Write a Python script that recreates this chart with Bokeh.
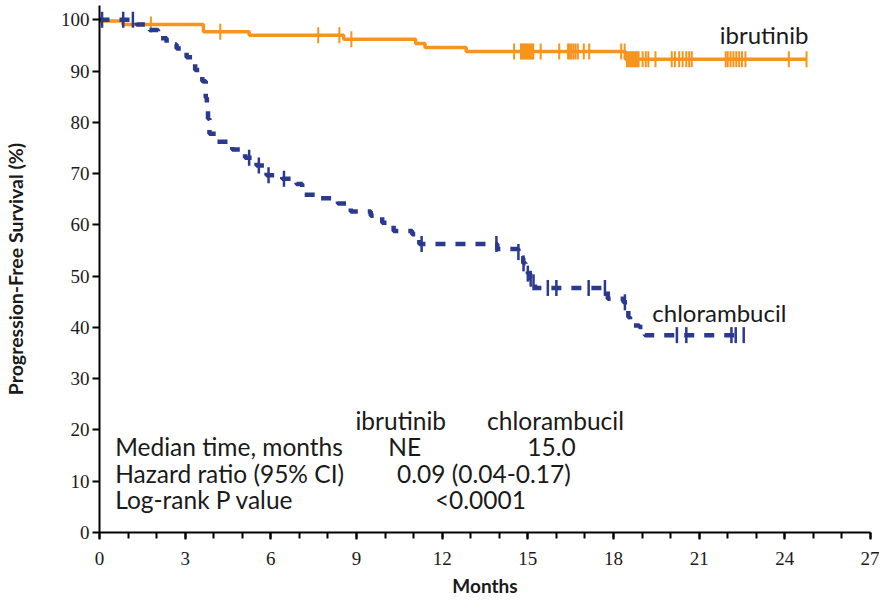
import numpy as np
from bokeh.plotting import figure
from bokeh.models import Label, FixedTicker, Range1d
from bokeh.embed import file_html
from bokeh.resources import INLINE

# ---- data ----
ibr_t = [0, 0.82, 3.64, 5.24, 8.55, 11.07, 11.4, 12.84, 18.42]
ibr_s = [99.8, 99.1, 97.7, 97.0, 96.2, 95.4, 94.6, 93.85, 92.3]
ibr_end = 24.76
ibr_cens = [1.8, 4.23, 7.66, 8.4, 8.82, 14.52, 14.76, 14.8, 14.85, 14.9, 14.95,
            15.0, 15.05, 15.1, 15.15, 15.19, 15.45, 16.1, 16.41, 16.47, 16.53,
            16.6, 16.67, 16.75, 16.96, 17.15, 18.27, 18.39, 18.47, 18.52, 18.57,
            18.62, 18.67, 18.72, 18.77, 18.82, 18.88, 19.02, 19.13, 19.22, 19.47,
            20.04, 20.15, 20.3, 20.42, 20.55, 20.65, 20.74, 21.93, 22.0, 22.1,
            22.2, 22.3, 22.4, 22.5, 22.62, 24.14, 24.76]

chl_t = [0, 1.3, 1.75, 2.05, 2.35, 2.7, 3.05, 3.35, 3.6, 3.72, 3.76, 3.8, 3.85,
         4.1, 4.65, 5.1, 5.5, 5.85, 6.4, 6.9, 7.1, 7.7, 8.35, 8.8, 9.5, 9.9,
         10.3, 10.95, 11.2, 13.93, 14.67, 14.75, 14.84, 14.92, 15.0, 15.08,
         15.16, 15.25, 17.8, 18.35, 18.48, 18.52, 18.58, 18.9, 19.1]
chl_s = [100, 99.1, 98.0, 96.4, 95.2, 94.4, 92.7, 90.2, 88.0, 84.8, 82.5, 80.7,
         77.8, 76.2, 74.7, 73.1, 71.6, 69.7, 69.0, 68.0, 65.9, 65.2, 64.2, 62.6,
         61.8, 60.4, 58.8, 58.2, 56.3, 55.3, 54.7, 53.5, 52.5, 51.5, 50.5, 49.5,
         48.8, 47.7, 45.6, 44.9, 43.3, 42.0, 40.4, 40.1, 38.5]
chl_end = 22.57
chl_cens = [0.09, 0.83, 1.17, 5.24, 5.58, 5.92, 6.46, 11.28, 13.9, 14.67, 14.85,
            15.0, 15.1, 15.2, 15.7, 16.0, 17.13, 17.7, 18.4, 20.22, 20.55,
            22.13, 22.28, 22.56]

x_ticks = [0, 3, 6, 9, 12, 15, 18, 21, 24, 27]
y_ticks = [0, 10, 20, 30, 40, 50, 60, 70, 80, 90, 100]

table_header = ["ibrutinib", "chlorambucil"]
table_rows = ["Median time, months", "Hazard ratio (95% CI)", "Log-rank P value"]
table_vals = ["NE", "15.0", "0.09 (0.04-0.17)", "<0.0001"]

ORANGE = "#F7941D"
NAVY = "#2B3990"
TXT = "#1a1a1a"
FONT = "Lato"


def censor_y(t, s, c):
    idx = np.searchsorted(np.array(t), np.array(c), side="right") - 1
    return [s[i] for i in idx]


p = figure(width=879, height=599, output_backend="svg", toolbar_location=None,
           x_range=Range1d(0, 27), y_range=Range1d(0, 102.8),
           min_border_left=97, min_border_right=9, min_border_top=5,
           min_border_bottom=67)
p.outline_line_color = None
p.xgrid.visible = False
p.ygrid.visible = False
p.background_fill_color = "white"
p.border_fill_color = "white"

# ibrutinib curve
p.step(list(ibr_t) + [ibr_end], list(ibr_s) + [ibr_s[-1]], mode="after",
       line_color=ORANGE, line_width=3.5)
p.scatter(ibr_cens, censor_y(ibr_t, ibr_s, ibr_cens), marker="dash",
          angle=np.pi / 2, size=16, line_color=ORANGE, line_width=2)

# chlorambucil curve
p.step(list(chl_t) + [chl_end], list(chl_s) + [chl_s[-1]], mode="after",
       line_color=NAVY, line_width=4.5, line_dash="10 10")
p.scatter(chl_cens, censor_y(chl_t, chl_s, chl_cens), marker="dash",
          angle=np.pi / 2, size=16, line_color=NAVY, line_width=2.5)

# axes
for ax in (p.xaxis[0], p.yaxis[0]):
    ax.axis_line_width = 2
    ax.axis_line_color = "black"
    ax.major_tick_line_width = 2
    ax.minor_tick_line_width = 2
    ax.major_tick_line_color = "black"
    ax.minor_tick_line_color = "black"
    ax.major_tick_in = 0
    ax.minor_tick_in = 0
    ax.major_tick_out = 7
    ax.minor_tick_out = 6
    ax.major_label_text_font = "Liberation Sans Narrow"
    ax.major_label_text_font_size = "19px"
    ax.major_label_text_color = TXT
    ax.axis_label_text_font = FONT
    ax.axis_label_text_font_style = "bold"
    ax.axis_label_text_color = TXT

p.xaxis[0].ticker = FixedTicker(ticks=x_ticks, minor_ticks=list(range(0, 28)))
p.yaxis[0].ticker = FixedTicker(ticks=y_ticks, minor_ticks=[])
p.xaxis[0].major_label_standoff = 12
p.yaxis[0].major_label_standoff = 3
p.xaxis[0].axis_label = "Months"
p.yaxis[0].axis_label = "Progression-Free Survival (%)"
p.xaxis[0].axis_label_text_font_size = "19px"
p.yaxis[0].axis_label_text_font_size = "19.5px"
p.xaxis[0].axis_label_standoff = 6
p.yaxis[0].axis_label_standoff = 31

# curve labels
p.add_layout(Label(x=21.72, y=97.15, text="ibrutinib", text_font=FONT,
                   text_font_size="24px", text_color=TXT,
                   text_baseline="alphabetic"))
p.add_layout(Label(x=19.36, y=42.96, text="chlorambucil", text_font=FONT,
                   text_font_size="24px", text_color=TXT,
                   text_baseline="alphabetic"))

# table
TS = "24.5px"
p.add_layout(Label(x=10.55, y=21.86, text=table_header[0], text_font=FONT,
                   text_font_size=TS, text_color=TXT, text_align="center",
                   text_baseline="alphabetic"))
p.add_layout(Label(x=15.97, y=21.86, text=table_header[1], text_font=FONT,
                   text_font_size=TS, text_color=TXT, text_align="center",
                   text_baseline="alphabetic"))
row_y = [16.73, 11.6, 6.52]
for row, yy in zip(table_rows, row_y):
    p.add_layout(Label(x=0.55, y=yy, text=row, text_font=FONT,
                       text_font_size=TS, text_color=TXT,
                       text_baseline="alphabetic"))
for val, xx, yy in zip(table_vals, [10.69, 15.83, 13.46, 13.34],
                       [row_y[0], row_y[0], row_y[1], row_y[2]]):
    p.add_layout(Label(x=xx, y=yy, text=val, text_font=FONT,
                       text_font_size=TS, text_color=TXT, text_align="center",
                       text_baseline="alphabetic"))

open("out.html", "w").write(file_html(p, INLINE))
